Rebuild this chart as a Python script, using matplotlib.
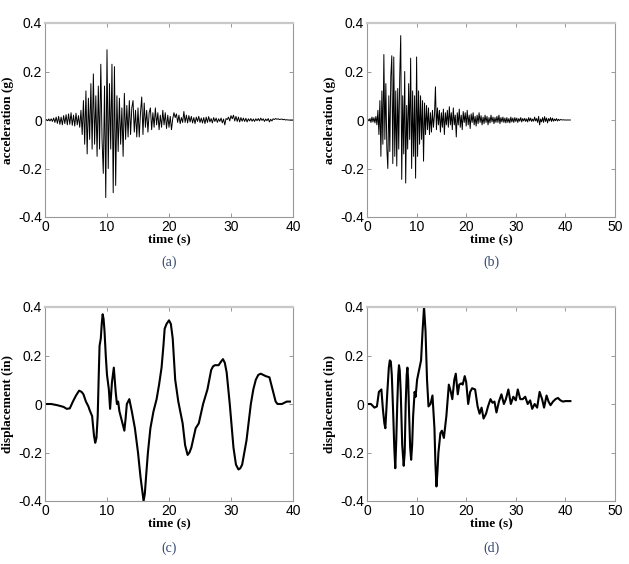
import numpy as np
import matplotlib
matplotlib.use('Agg')
import matplotlib.pyplot as plt

# ground acceleration record (a), sampled every 0.2 s, g
acc_a = [0, 0.002, -0.003, 0.004, -0.004, 0.005, -0.006, 0.008, -0.010, 0.012, -0.014,
         0.015, -0.018, 0.012, -0.02, 0.018, -0.015, 0.022, -0.02, 0.025, -0.018,
         0.03, -0.022, 0.02, -0.025, 0.028, -0.02, 0.018, -0.03, 0.04, -0.06,
         0.08, -0.1, 0.12, -0.14, 0.09, -0.08, 0.15, -0.12, 0.19, -0.1,
         0.1, -0.15, 0.14, -0.12, 0.23, -0.08, -0.22, 0.14, -0.32, 0.29,
         -0.2, 0.15, -0.12, 0.23, -0.3, 0.22, -0.27, 0.1, -0.13, 0.09,
         -0.1, 0.05, -0.15, 0.11, -0.08, 0.06, -0.07, 0.08, -0.06, 0.05,
         0.08, -0.05, 0.04, -0.07, 0.05, -0.07, 0.03, 0.095, -0.06, 0.07,
         -0.03, 0.04, -0.05, 0.03, 0.05, -0.04, 0.03, -0.03, 0.05, -0.02,
         0.03, -0.04, 0.02, -0.03, 0.04, -0.02, 0.03, -0.035, 0.02, -0.03,
         0.015, -0.04, 0.005, 0.03, 0.01, 0.025, -0.01, 0.02, -0.015, 0.01,
         -0.01, 0.035, -0.01, 0.02, -0.012, 0.018, -0.008, 0.015, -0.012, 0.01,
         -0.015, 0.012, -0.006, 0.015, -0.01, 0.008, -0.012, 0.01, -0.015, 0.012,
         -0.01, 0.014, -0.008, 0.006, -0.012, 0.01, -0.006, 0.008, -0.01, 0.005,
         -0.006, 0.008, -0.012, 0.004, -0.02, 0.006, 0.002, 0.012, -0.004, 0.018,
         0.005, 0.02, -0.004, 0.015, -0.006, 0.012, -0.008, 0.01, -0.005, 0.008,
         -0.006, 0.007, -0.008, 0.005, -0.004, 0.006, -0.005, 0.004, -0.006, 0.005,
         -0.003, 0.006, -0.004, 0.008, -0.002, 0.005, -0.006, 0.004, -0.003, 0.006,
         -0.008, 0.003, -0.004, 0.005, 0.002, 0.006, 0.003, 0.005, 0.002, 0.003,
         0.004, 0.001, 0.003, 0.0, 0.001, 0.0, 0.0, 0.0, 0.0, 0.0]

# ground acceleration record (b), sampled every 0.2 s, g
acc_b = [0, 0.003, -0.004, 0.006, -0.01, 0.012, -0.008, 0.01, -0.012, 0.015, -0.02,
         0.04, -0.06, 0.08, -0.15, 0.12, -0.1, 0.27, -0.08, 0.15, -0.12,
         -0.2, 0.1, -0.13, 0.18, 0.265, -0.18, 0.26, -0.15, 0.12, -0.19,
         0.13, -0.12, 0.18, 0.348, -0.245, 0.1, -0.14, 0.2, -0.26, 0.06,
         -0.12, 0.15, -0.08, 0.255, -0.2, 0.12, -0.15, 0.1, -0.24, 0.26,
         -0.15, 0.12, -0.1, 0.1, -0.08, 0.08, -0.17, 0.07, -0.06, 0.06,
         -0.04, 0.05, -0.06, 0.03, -0.05, 0.04, -0.03, 0.02, 0.137, -0.04,
         0.05, -0.02, 0.04, -0.05, 0.03, -0.03, 0.045, -0.06, 0.03, -0.02,
         0.04, -0.03, 0.055, -0.02, 0.03, -0.04, 0.05, -0.02, 0.02, -0.07,
         0.03, -0.02, 0.045, -0.03, 0.02, -0.04, 0.035, -0.01, 0.03, -0.025,
         0.04, -0.02, 0.02, -0.035, 0.025, -0.01, 0.03, -0.02, 0.015, -0.025,
         0.02, -0.015, 0.03, -0.01, 0.018, -0.02, 0.012, -0.015, 0.02, -0.01,
         0.015, -0.02, 0.01, -0.012, 0.02, -0.008, 0.012, -0.015, 0.01, -0.01,
         0.015, -0.01, 0.02, -0.015, 0.01, -0.008, 0.012, -0.01, 0.008, -0.012,
         0.01, -0.01, 0.006, -0.012, 0.012, -0.008, 0.008, -0.01, 0.01, -0.006,
         0.008, -0.01, 0.006, -0.005, 0.01, -0.008, 0.006, -0.004, 0.007, -0.006,
         0.005, -0.008, 0.01, -0.004, 0.008, -0.006, 0.004, -0.005, 0.012, -0.004,
         0.006, -0.01, 0.015, -0.02, 0.004, -0.008, 0.01, -0.01, 0.014, -0.006,
         0.008, -0.012, 0.006, -0.004, 0.01, -0.006, 0.008, -0.005, 0.004, -0.003,
         0.006, -0.004, 0.003, -0.002, 0.002, 0.001, 0.0, 0.001, 0.0, 0.0,
         0.0, 0.0, 0.0, 0.0, 0.0]

t_a = np.arange(len(acc_a)) * 0.2
t_b = np.arange(len(acc_b)) * 0.2

# displacement response (c)
t_c = [0, 1, 2, 3, 3.5, 4.0, 4.5, 5.0, 5.5, 5.9, 6.2, 6.6, 7.0, 7.2, 7.6, 7.9, 8.1,
       8.3, 8.5, 8.7, 8.8, 9.0, 9.15, 9.3, 9.45, 9.6, 9.8, 10.0, 10.3, 10.5, 10.8,
       11.1, 11.4, 11.6, 11.8, 12.0, 12.4, 12.8, 13.0, 13.2, 13.6, 14.0, 14.5, 15.0,
       15.4, 15.7, 15.9, 16.1, 16.3, 16.6, 17.0, 17.5, 18.0, 18.4, 18.8, 19.1, 19.3,
       19.6, 20.0, 20.3, 20.6, 21.0, 21.5, 22.2, 22.6, 23.0, 23.3, 23.6, 24.3, 24.8,
       25.5, 26.2, 26.8, 27.1, 27.4, 28.0, 28.4, 28.7, 29.0, 29.3, 29.8, 30.4, 30.8,
       31.2, 31.5, 31.8, 32.5, 33.2, 33.6, 34.0, 34.4, 34.8, 35.2, 35.6, 36.2, 36.8,
       37.2, 37.5, 38.2, 39.0, 39.5]
disp_c = [0, 0.0, -0.005, -0.012, -0.02, -0.018, 0.01, 0.035, 0.055, 0.05, 0.04,
          0.01, -0.01, -0.025, -0.05, -0.13, -0.16, -0.14, -0.05, 0.15, 0.24, 0.27,
          0.33, 0.37, 0.35, 0.3, 0.2, 0.12, 0.06, -0.02, 0.09, 0.15, 0.05, 0.0,
          0.01, -0.03, -0.07, -0.11, -0.06, 0.0, 0.02, -0.03, -0.1, -0.2, -0.3,
          -0.36, -0.40, -0.37, -0.3, -0.2, -0.1, -0.03, 0.02, 0.08, 0.15, 0.24,
          0.31, 0.33, 0.345, 0.33, 0.27, 0.1, 0.01, -0.08, -0.17, -0.21, -0.2,
          -0.18, -0.1, -0.08, 0.0, 0.06, 0.14, 0.155, 0.16, 0.16, 0.175, 0.185,
          0.17, 0.13, 0.0, -0.18, -0.25, -0.27, -0.265, -0.25, -0.15, 0.0, 0.06,
          0.1, 0.12, 0.125, 0.12, 0.115, 0.11, 0.05, 0.01, 0.0, 0.0, 0.01, 0.01]

# displacement response (d)
t_d = [0, 0.8, 1.5, 2.0, 2.4, 2.9, 3.2, 3.5, 3.7, 4.1, 4.4, 4.6, 4.8, 5.0, 5.3, 5.5,
       5.7, 5.9, 6.1, 6.3, 6.45, 6.6, 6.8, 7.1, 7.4, 7.6, 7.8, 8.0, 8.15, 8.3, 8.5,
       8.7, 8.9, 9.1, 9.3, 9.6, 9.8, 10.1, 10.5, 10.9, 11.2, 11.5, 11.8, 12.1, 12.4,
       12.8, 13.2, 13.6, 13.8, 14.0, 14.2, 14.4, 14.8, 15.1, 15.5, 16.0, 16.5, 16.9,
       17.2, 17.6, 17.9, 18.3, 18.6, 19.0, 19.3, 19.7, 20.0, 20.4, 20.8, 21.2, 21.8,
       22.3, 22.7, 23.1, 23.5, 24.0, 24.4, 24.9, 25.3, 25.7, 26.1, 26.6, 27.1, 27.6,
       28.0, 28.5, 29.0, 29.5, 30.0, 30.4, 30.9, 31.4, 31.9, 32.4, 32.9, 33.3, 33.8,
       34.3, 34.8, 35.3, 35.7, 36.2, 36.6, 37.0, 37.5, 38.0, 38.5, 39.0, 39.5, 40.0,
       41.0]
disp_d = [0, 0.0, -0.015, -0.01, 0.05, 0.06, -0.02, -0.08, -0.1, 0.05, 0.15, 0.18,
          0.175, 0.12, -0.05, -0.18, -0.265, -0.15, 0.0, 0.12, 0.16, 0.14, 0.05,
          -0.17, -0.255, -0.2, 0.0, 0.12, 0.15, 0.1, -0.05, -0.18, -0.23, -0.17,
          -0.05, 0.05, 0.03, 0.1, 0.14, 0.18, 0.3, 0.4, 0.3, 0.1, -0.01, 0.0,
          0.035, -0.1, -0.25, -0.34, -0.28, -0.2, -0.12, -0.11, -0.14, -0.05, 0.08,
          0.05, 0.02, 0.1, 0.125, 0.04, 0.08, 0.085, 0.08, 0.115, 0.09, 0.0, 0.05,
          0.065, 0.06, -0.01, -0.04, -0.015, -0.06, -0.04, -0.01, 0.02, 0.005, 0.01,
          -0.035, 0.01, 0.04, 0.0, 0.02, 0.06, 0.0, 0.03, 0.015, 0.06, 0.02, 0.02,
          0.03, 0.0, 0.015, -0.02, 0.0, -0.015, 0.05, 0.02, -0.015, 0.035, 0.01,
          -0.005, 0.01, 0.02, 0.025, 0.015, 0.01, 0.012, 0.012]

yticks = [-0.4, -0.2, 0, 0.2, 0.4]
ytick_labels = ['-0.4', '-0.2', '0', '0.2', '0.4']

fig = plt.figure(figsize=(6.29, 5.64), dpi=100)

W = 248 / 629
H = 194 / 564
axes_pos = [(45 / 629, 1 - 217 / 564), (367 / 629, 1 - 217 / 564),
            (45 / 629, 1 - 501 / 564), (367 / 629, 1 - 501 / 564)]
panels = [(t_a, acc_a, 40, 'acceleration (g)', 0.7, '(a)'),
          (t_b, acc_b, 50, 'acceleration (g)', 0.7, '(b)'),
          (t_c, disp_c, 40, 'displacement (in)', 1.5, '(c)'),
          (t_d, disp_d, 50, 'displacement (in)', 1.5, '(d)')]
label_y = [1 - 262 / 564, 1 - 262 / 564, 1 - 548 / 564, 1 - 548 / 564]

for (x0, y0), (t, y, xmax, ylab, lw, tag), ly in zip(axes_pos, panels, label_y):
    ax = fig.add_axes([x0, y0, W, H])
    ax.plot(t, y, color='black', lw=lw)
    ax.set_xlim(0, xmax)
    ax.set_ylim(-0.4, 0.4)
    ax.set_xticks(np.arange(0, xmax + 1, 10))
    ax.set_yticks(yticks)
    ax.set_yticklabels(ytick_labels)
    ax.tick_params(direction='in', top=True, right=True, length=3, width=0.6,
                   color='#888888', labelsize=10, pad=2)
    for lab in ax.get_xticklabels() + ax.get_yticklabels():
        lab.set_family('Liberation Sans')
    for s in ax.spines.values():
        s.set_color('#999999')
        s.set_linewidth(0.8)
    ax.spines['top'].set_color('#c8c8c8')
    ax.spines['top'].set_linewidth(1.6)
    ax.set_xlabel('time (s)', family='Liberation Serif', fontweight='bold',
                  fontsize=9.5, labelpad=0)
    ax.set_ylabel(ylab, family='Liberation Serif', fontweight='bold',
                  fontsize=9.5, labelpad=3)
    fig.text(x0 + W / 2, ly, tag, ha='center', va='center',
             family='Liberation Serif', fontsize=10, color='#34496e')

fig.savefig('out.png', dpi=100)
